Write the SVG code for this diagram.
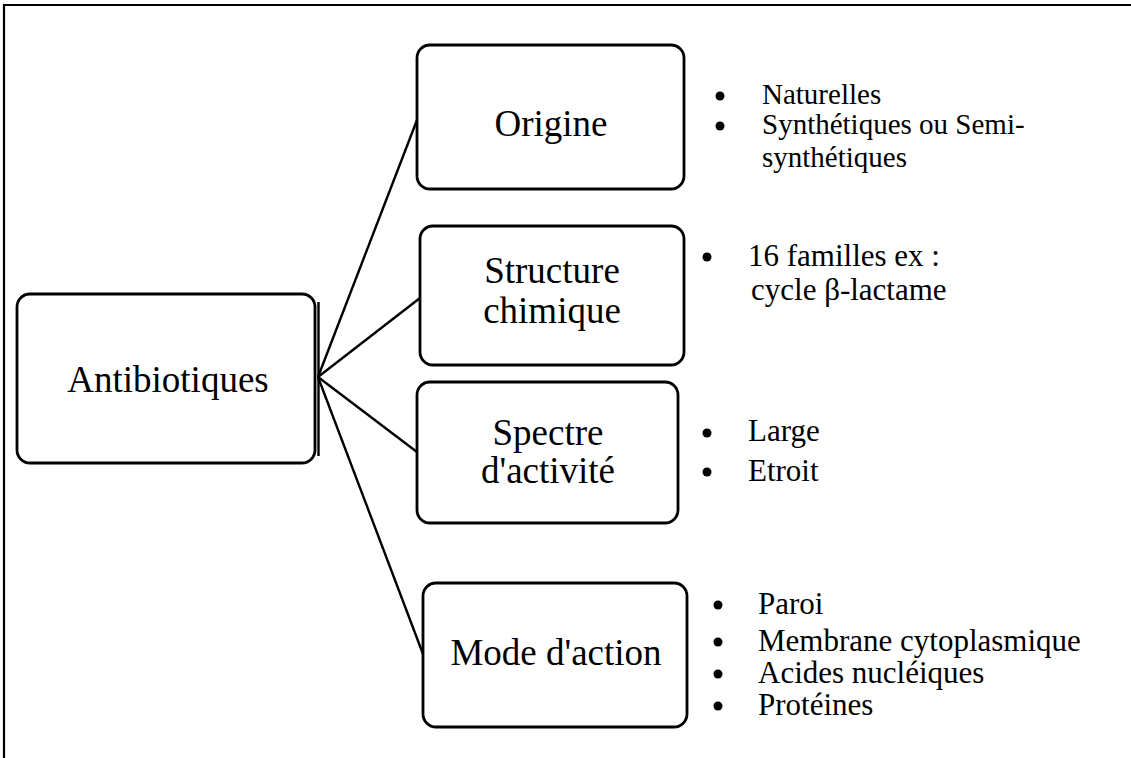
<svg xmlns="http://www.w3.org/2000/svg" width="1131" height="758" viewBox="0 0 1131 758">
<style>
.box{fill:#fff;stroke:#000;stroke-width:2.8}
.lbl{font-family:"Liberation Serif","Times New Roman",serif;font-size:37px;fill:#000;text-anchor:middle}
.itm{font-family:"Liberation Serif","Times New Roman",serif;font-size:31px;fill:#000}
.itm2{font-family:"Liberation Serif","Times New Roman",serif;font-size:29px;fill:#000}
.con{stroke:#000;stroke-width:2.4;fill:none}
.frame{stroke:#000;stroke-width:2.2;fill:none}
</style>
<rect width="1131" height="758" fill="#fff"/>
<path class="frame" d="M4,758 V5 H1131"/>
<g id="connectors">
<line class="con" x1="318" y1="377" x2="417" y2="120"/>
<line class="con" x1="318" y1="377" x2="420" y2="298"/>
<line class="con" x1="318" y1="377" x2="417" y2="452"/>
<line class="con" x1="318" y1="377" x2="423" y2="654"/>
</g>
<g id="antibiotiques">
<rect class="box" x="17" y="294" width="298" height="169" rx="13"/>
<line class="con" x1="318.5" y1="302" x2="318.5" y2="456" stroke-width="1.6"/>
<text class="lbl" x="168" y="392">Antibiotiques</text>
</g>
<g id="origine">
<rect class="box" x="417" y="45" width="267" height="144" rx="13"/>
<text class="lbl" x="551" y="136">Origine</text>
<circle cx="720" cy="96" r="4.5"/>
<circle cx="720" cy="126" r="4.5"/>
<text class="itm2" x="762" y="104">Naturelles</text>
<text class="itm2" x="762" y="134">Synthétiques ou Semi-</text>
<text class="itm2" x="762" y="167">synthétiques</text>
</g>
<g id="structure">
<rect class="box" x="420" y="226" width="264" height="139" rx="13"/>
<text class="lbl" x="552" y="283">Structure</text>
<text class="lbl" x="552" y="323">chimique</text>
<circle cx="707" cy="257" r="4.5"/>
<text class="itm" x="748" y="266">16 familles ex :</text>
<text class="itm" x="751" y="300">cycle β-lactame</text>
</g>
<g id="spectre">
<rect class="box" x="417" y="382" width="261" height="141" rx="13"/>
<text class="lbl" x="548" y="445">Spectre</text>
<text class="lbl" x="548" y="483">d'activité</text>
<circle cx="707" cy="433" r="4.5"/>
<circle cx="707" cy="472" r="4.5"/>
<text class="itm" x="748" y="441">Large</text>
<text class="itm" x="748" y="481">Etroit</text>
</g>
<g id="mode">
<rect class="box" x="423" y="583" width="264" height="144" rx="13"/>
<text class="lbl" x="556" y="665">Mode d'action</text>
<circle cx="718" cy="605" r="4.5"/>
<circle cx="718" cy="642" r="4.5"/>
<circle cx="718" cy="674" r="4.5"/>
<circle cx="718" cy="706" r="4.5"/>
<text class="itm" x="758" y="614">Paroi</text>
<text class="itm" x="758" y="651">Membrane cytoplasmique</text>
<text class="itm" x="758" y="683">Acides nucléiques</text>
<text class="itm" x="758" y="715">Protéines</text>
</g>
</svg>
